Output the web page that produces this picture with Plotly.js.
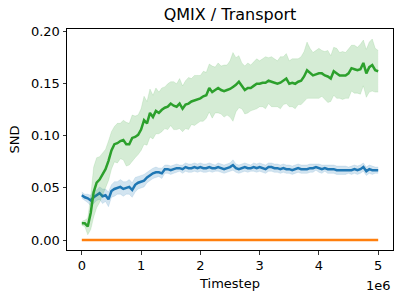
<!DOCTYPE html>
<html><head><meta charset="utf-8">
<script src="https://cdn.plot.ly/plotly-3.0.1.min.js"></script>
<style>html,body{margin:0;padding:0;background:#fff}#chart{width:400px;height:300px}</style>
</head><body><div id="chart"></div>
<script>
// Timestep in units of 1e6
const steps = [0,0.05,0.1,0.15,0.2,0.25,0.3,0.35,0.4,0.45,0.5,0.55,0.6,0.65,0.7,0.75,0.8,0.85,0.9,0.95,
1,1.05,1.1,1.15,1.2,1.25,1.3,1.35,1.4,1.45,1.5,1.55,1.6,1.65,1.7,1.75,1.8,1.85,1.9,1.95,
2,2.05,2.1,2.15,2.2,2.25,2.3,2.35,2.4,2.45,2.5,2.55,2.6,2.65,2.7,2.75,2.8,2.85,2.9,2.95,
3,3.05,3.1,3.15,3.2,3.25,3.3,3.35,3.4,3.45,3.5,3.55,3.6,3.65,3.7,3.75,3.8,3.85,3.9,3.95,
4,4.05,4.1,4.15,4.2,4.25,4.3,4.35,4.4,4.45,4.5,4.55,4.6,4.65,4.7,4.75,4.8,4.85,4.9,4.95,5];

const greenMean = [0.016,0.016,0.013,0.026,0.046,0.055,0.058,0.063,0.068,0.076,
0.086,0.092,0.093,0.095,0.096,0.092,0.092,0.098,0.099,0.101,
0.106,0.115,0.112,0.122,0.118,0.124,0.122,0.125,0.127,0.128,
0.131,0.129,0.128,0.131,0.126,0.130,0.131,0.133,0.134,0.135,
0.136,0.138,0.139,0.146,0.142,0.144,0.146,0.144,0.143,0.144,
0.145,0.147,0.149,0.152,0.148,0.144,0.146,0.146,0.148,0.150,
0.150,0.151,0.151,0.153,0.152,0.151,0.150,0.151,0.153,0.155,
0.150,0.151,0.150,0.152,0.153,0.157,0.163,0.160,0.158,0.159,
0.160,0.160,0.158,0.157,0.155,0.162,0.160,0.158,0.158,0.158,
0.160,0.165,0.164,0.163,0.164,0.170,0.160,0.166,0.168,0.163,
0.162];
const greenSpread = [0.002,0.003,0.008,0.016,0.024,0.024,0.022,0.020,0.019,0.019,
0.018,0.017,0.019,0.017,0.019,0.021,0.020,0.022,0.020,0.019,
0.020,0.023,0.021,0.023,0.021,0.022,0.020,0.021,0.020,0.022,
0.021,0.023,0.022,0.024,0.022,0.023,0.025,0.022,0.024,0.023,
0.022,0.024,0.022,0.023,0.025,0.022,0.024,0.023,0.025,0.024,
0.027,0.033,0.026,0.025,0.022,0.023,0.024,0.022,0.023,0.024,
0.022,0.023,0.025,0.022,0.024,0.023,0.022,0.025,0.023,0.024,
0.022,0.023,0.024,0.022,0.023,0.024,0.027,0.024,0.022,0.023,
0.024,0.022,0.023,0.025,0.022,0.023,0.024,0.022,0.023,0.022,
0.024,0.022,0.023,0.022,0.024,0.022,0.023,0.024,0.025,0.021,
0.020];

const blueMean = [0.043,0.041,0.040,0.038,0.041,0.043,0.045,0.042,0.043,0.039,
0.047,0.049,0.050,0.051,0.049,0.050,0.051,0.048,0.053,0.055,
0.056,0.057,0.060,0.062,0.064,0.065,0.065,0.064,0.068,0.068,
0.067,0.068,0.069,0.069,0.068,0.070,0.069,0.069,0.070,0.069,
0.070,0.069,0.069,0.070,0.069,0.069,0.070,0.069,0.068,0.069,
0.070,0.072,0.069,0.068,0.069,0.070,0.069,0.069,0.070,0.069,
0.070,0.069,0.068,0.070,0.070,0.069,0.069,0.068,0.069,0.068,
0.068,0.067,0.068,0.069,0.068,0.068,0.068,0.069,0.069,0.070,
0.069,0.068,0.069,0.068,0.068,0.068,0.067,0.067,0.067,0.067,
0.067,0.067,0.068,0.067,0.068,0.070,0.066,0.068,0.067,0.067,
0.067];
const blueSpread = [0.003,0.003,0.004,0.005,0.006,0.005,0.006,0.007,0.006,0.007,
0.006,0.007,0.006,0.007,0.007,0.006,0.007,0.007,0.007,0.006,
0.006,0.006,0.005,0.005,0.005,0.005,0.004,0.005,0.004,0.004,
0.004,0.004,0.004,0.003,0.004,0.004,0.004,0.004,0.004,0.004,
0.004,0.004,0.004,0.004,0.004,0.003,0.004,0.004,0.004,0.004,
0.004,0.005,0.004,0.004,0.004,0.004,0.004,0.003,0.004,0.004,
0.004,0.004,0.004,0.004,0.004,0.004,0.004,0.004,0.004,0.004,
0.004,0.004,0.004,0.004,0.004,0.004,0.004,0.004,0.004,0.003,
0.004,0.004,0.003,0.004,0.004,0.004,0.004,0.004,0.004,0.004,
0.003,0.004,0.004,0.004,0.004,0.004,0.004,0.004,0.004,0.003,
0.003];

const orangeMean = [0,0,0,0,0,0,0,0,0,0,0,0,0,0,0,0,0,0,0,0,
0,0,0,0,0,0,0,0,0,0,0,0,0,0,0,0,0,0,0,0,
0,0,0,0,0,0,0,0,0,0,0,0,0,0,0,0,0,0,0,0,
0,0,0,0,0,0,0,0,0,0,0,0,0,0,0,0,0,0,0,0,
0,0,0,0,0,0,0,0,0,0,0,0,0,0,0,0,0,0,0,0,0];

const xTicks = [0,1,2,3,4,5];
const xTickLabels = ['0','1','2','3','4','5'];
const yTicks = [0,0.05,0.10,0.15,0.20];

function band(mean, spread, fillColor) {
  const lo = mean.map((v,i)=>v-spread[i]);
  const hi = mean.map((v,i)=>v+spread[i]);
  return [
    {x: steps, y: lo, mode:'lines', line:{width:0.6,color:fillColor}, hoverinfo:'skip', showlegend:false},
    {x: steps, y: hi, mode:'lines', fill:'tonexty', fillcolor:fillColor, line:{width:0.6,color:fillColor}, hoverinfo:'skip', showlegend:false}
  ];
}

const traces = [
  ...band(blueMean, blueSpread, 'rgba(31,119,180,0.2)'),
  {x: steps, y: blueMean, mode:'lines', line:{color:'#1f77b4', width:2.5}, showlegend:false},
  {x: steps, y: orangeMean, mode:'lines', line:{color:'#ff7f0e', width:2.5}, showlegend:false},
  ...band(greenMean, greenSpread, 'rgba(44,160,44,0.2)'),
  {x: steps, y: greenMean, mode:'lines', line:{color:'#2ca02c', width:2.5}, showlegend:false}
];

const font = {family:'DejaVu Sans, sans-serif', size:13, color:'#000'};
const layout = {
  width:400, height:300,
  margin:{l:67, r:7, t:29, b:50},
  paper_bgcolor:'#fff', plot_bgcolor:'#fff',
  font: font,
  showlegend:false,
  title:{text:'QMIX / Transport', font:{family:'DejaVu Sans, sans-serif', size:16, color:'#000'}, x:0.575, xanchor:'center', y:0.952, yanchor:'middle'},
  xaxis:{range:[-0.25,5.25], tickvals:xTicks, ticktext:xTickLabels, ticks:'outside', ticklen:3.5, tickwidth:0.8, tickcolor:'#000',
    showline:true, mirror:true, linecolor:'#000', linewidth:1, showgrid:false, zeroline:false,
    tickfont:font, title:{text:'Timestep', font:font, standoff:6}},
  yaxis:{range:[-0.0096,0.2026], tickvals:yTicks, tickformat:'.2f', ticks:'outside', ticklen:3.5, tickwidth:0.8, tickcolor:'#000',
    showline:true, mirror:true, linecolor:'#000', linewidth:1, showgrid:false, zeroline:false,
    tickfont:font, title:{text:'SND', font:font, standoff:8}},
  annotations:[{text:'1e6', xref:'paper', yref:'paper', x:1, y:0, xanchor:'right', yanchor:'middle', yshift:-35, showarrow:false, font:font}]
};
Plotly.newPlot('chart', traces, layout, {staticPlot:true, displayModeBar:false});
</script></body></html>
